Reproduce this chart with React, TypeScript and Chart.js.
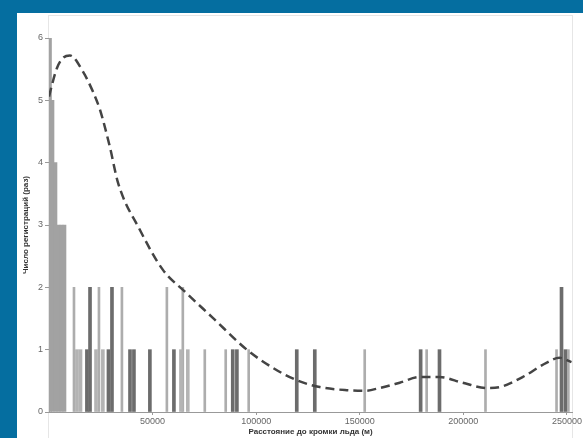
import React, { useEffect, useRef } from "react";
import { Chart, registerables } from "chart.js";

Chart.register(...registerables);

// Histogram-like bars (distance in m, count)
const clusterX = [480, 1690, 3130, 4580, 6030, 7470];
const clusterY = [6, 5, 4, 3, 3, 3];
const lightX = [12060, 24110, 35200, 56900, 64600, 75200, 85300, 96400, 152400, 182300, 210700, 245000, 250700];
const lightY = [2, 2, 2, 2, 2, 1, 1, 1, 1, 1, 1, 1, 1];
const lightWideX = [13500, 15200, 22700, 26000, 63700, 67000];
const lightWideY = [1, 1, 1, 1, 1, 1];
const darkX = [18300, 19800, 28700, 30400, 39100, 41000, 48700, 60300, 88700, 90700, 119600, 128300, 179400, 188500, 247400, 249300];
const darkY = [1, 2, 1, 2, 1, 1, 1, 1, 1, 1, 1, 1, 1, 1, 2, 1];

// Dashed density curve
const curveX = [0, 1450, 3860, 6750, 10100, 16400, 21200, 24600, 29400, 33300, 43900, 55000, 65600, 79100, 95500, 108000, 119600, 130700, 143700, 152400, 159600, 169300, 178900, 188500, 199600, 211200, 217500, 228600, 240100, 246400, 252200];
const curveY = [5.06, 5.25, 5.52, 5.68, 5.72, 5.46, 5.14, 4.85, 4.25, 3.68, 2.92, 2.28, 1.93, 1.51, 1.0, 0.71, 0.51, 0.4, 0.35, 0.34, 0.385, 0.47, 0.56, 0.56, 0.47, 0.385, 0.4, 0.56, 0.79, 0.87, 0.8];

const xTickValues = [50000, 100000, 150000, 200000, 250000];
const yTickValues = [0, 1, 2, 3, 4, 5, 6];
const xTitle = "Расстояние до кромки льда (м)";
const yTitle = "Число регистраций (раз)";

const pts = (xs: number[], ys: number[]) => xs.map((x, i) => ({ x, y: ys[i] }));

export default function App() {
  const ref = useRef<HTMLCanvasElement | null>(null);
  useEffect(() => {
    if (!ref.current) return;
    const barBase = { type: "bar" as const, grouped: false, borderWidth: 0, order: 1 };
    const chart = new Chart(ref.current, {
      type: "bar",
      data: {
        datasets: [
          { ...barBase, data: pts(clusterX, clusterY), backgroundColor: "#a2a2a2", barThickness: 3 },
          { ...barBase, data: pts(lightWideX, lightWideY), backgroundColor: "#b4b4b4", barThickness: 3 },
          { ...barBase, data: pts(lightX, lightY), backgroundColor: "#adadad", barThickness: 2 },
          { ...barBase, data: pts(darkX, darkY), backgroundColor: "#6c6c6c", barThickness: 3 },
          {
            type: "line" as const,
            data: pts(curveX, curveY),
            borderColor: "#444",
            borderWidth: 2.5,
            borderDash: [9, 5],
            pointRadius: 0,
            fill: false,
            cubicInterpolationMode: "monotone",
            order: 0,
          } as any,
        ],
      },
      options: {
        animation: false,
        responsive: false,
        devicePixelRatio: 1,
        layout: { padding: { top: 25, right: 9, left: 0, bottom: 0 } },
        plugins: { legend: { display: false }, tooltip: { enabled: false } },
        scales: {
          x: {
            type: "linear",
            min: 0,
            max: 252500,
            offset: false,
            grid: { display: true, drawOnChartArea: false, drawTicks: true, tickLength: 3, color: "#999", offset: false },
            border: { color: "#999" },
            ticks: {
              color: "#666",
              font: { family: "Liberation Sans, Arial", size: 9 },
              padding: 1,
              maxRotation: 0,
              autoSkip: false,
              callback: (v: any) => String(v),
            },
            afterBuildTicks: (s: any) => { s.ticks = xTickValues.map((v) => ({ value: v })); },
            title: {
              display: true,
              text: xTitle,
              color: "#333",
              font: { family: "Liberation Sans, Arial", size: 8, weight: "bold" },
              padding: { top: 0, bottom: 1 },
            },
            afterFit: (s: any) => { s.height = 26; },
          },
          y: {
            min: 0,
            max: 6,
            grid: { display: true, drawOnChartArea: false, drawTicks: true, tickLength: 4, color: "#999" },
            border: { color: "#999" },
            ticks: {
              color: "#666",
              font: { family: "Liberation Sans, Arial", size: 9 },
              padding: 2,
            },
            afterBuildTicks: (s: any) => { s.ticks = yTickValues.map((v) => ({ value: v })); },
            title: {
              display: true,
              text: yTitle,
              color: "#333",
              font: { family: "Liberation Sans, Arial", size: 8, weight: "bold" },
              padding: { top: 4, bottom: 0 },
            },
            afterFit: (s: any) => { s.width = 32; },
          },
        },
      } as any,
    });
    return () => chart.destroy();
  }, []);

  return (
    <div style={{ position: "absolute", left: 0, top: 0, width: 583, height: 438, background: "#056ea0", overflow: "hidden" }}>
      <div style={{ position: "absolute", left: 17, top: 13, width: 566, height: 425, background: "#fff" }}>
        <div style={{ position: "absolute", left: 31, top: 2, width: 525, height: 440, border: "1px solid #e6e6e6", boxSizing: "border-box" }} />
        <canvas ref={ref} width={566} height={425} style={{ position: "absolute", left: 0, top: 0, width: 566, height: 425 }} />
      </div>
    </div>
  );
}
